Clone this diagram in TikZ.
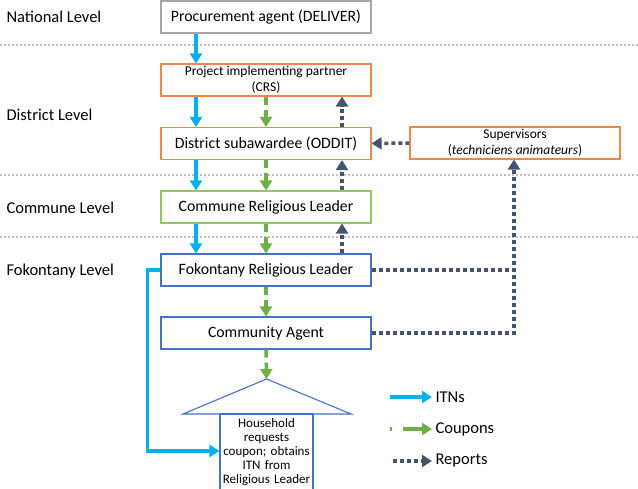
\documentclass[tikz,border=0pt]{standalone}
\usepackage{fontspec}
\setmainfont{Carlito}
\usetikzlibrary{arrows.meta}

\definecolor{itnblue}{RGB}{0,176,240}
\definecolor{cpgreen}{RGB}{112,173,71}
\definecolor{repdark}{RGB}{68,84,106}
\definecolor{boxorange}{RGB}{240,135,70}
\definecolor{boxgreen}{RGB}{146,200,100}
\definecolor{boxblue}{RGB}{68,114,196}
\definecolor{boxgray}{RGB}{166,166,166}
\definecolor{sepgray}{RGB}{191,191,191}

\begin{document}
\begin{tikzpicture}[x=1pt, y=-1pt]
        \tikzstyle{every node}=[font=\fontsize{15.8}{18}\selectfont, text=black]
        \tikzstyle{box}=[rectangle, fill=white, line width=1.1pt, minimum width=210pt, minimum height=32pt, inner sep=1pt]
        \tikzstyle{smalltext}=[font=\fontsize{13.5}{16}\selectfont, align=center]
        \tikzstyle{level}=[anchor=west, font=\fontsize{16.5}{19}\selectfont]
        \tikzstyle{sep}=[sepgray, line width=1.6pt, dash pattern=on 2pt off 2pt]
        \tikzstyle{itn}=[itnblue, line width=3.5pt, -{Triangle[length=10pt, width=12pt]}]
        \tikzstyle{coupon}=[cpgreen, line width=3.5pt, dash pattern=on 8pt off 5pt, -{Triangle[length=10pt, width=12pt]}]
        \tikzstyle{report}=[repdark, line width=3.5pt, dash pattern=on 4pt off 3pt, -{Triangle[length=10pt, width=12pt]}]

        \useasboundingbox (0,0) rectangle (638,488);

        % levels
        \draw[sep] (0,45) -- (638,45);
        \draw[sep] (0,175) -- (638,175);
        \draw[sep] (0,237) -- (638,237);
        \node[level] (national) at (3,17)  {National Level};
        \node[level] (district) at (3,115) {District Level};
        \node[level] (commune)  at (3,208) {Commune Level};
        \node[level] (fokontany) at (3,271) {Fokontany Level};

        % boxes
        \node[box, draw=boxgray]   (deliver) at (266,17)    {Procurement agent (DELIVER)};
        \node[box, draw=boxorange, smalltext] (crs) at (266,80) {Project implementing partner\\(CRS)};
        \node[box, draw=boxorange] (oddit)   at (266,143.5) {District subawardee (ODDIT)};
        \node[box, draw=boxgreen]  (crl)     at (266,207)   {Commune Religious Leader};
        \node[box, draw=boxblue]   (frl)     at (266,270)   {Fokontany Religious Leader};
        \node[box, draw=boxblue]   (agent)   at (266,333)   {Community Agent};
        \node[box, draw=boxorange, smalltext] (sup) at (515,143) {Supervisors\\(\textit{techniciens animateurs})};

        % household
        \coordinate (roof) at (266.5,379);
        \draw[boxblue, line width=1.1pt, fill=white] (183,414) -- (roof) -- (351,414) -- cycle;
        \node[box, draw=boxblue, align=center, minimum width=93pt, minimum height=76pt, text width=91pt, inner sep=0pt,
              font=\fontsize{13}{14}\selectfont] (house) at (266.5,452) {Household\\requests\\coupon; obtains\\ITN from\\Religious Leader};

        % columns for the flows
        \coordinate (itnx) at (196,0);
        \coordinate (cpx)  at (266,0);
        \coordinate (repx) at (342,0);
        \coordinate (supx) at (514,0);

        % ITNs
        \draw[itn] (deliver.south -| itnx) -- (crs.north -| itnx);
        \draw[itn] (crs.south -| itnx) -- (oddit.north -| itnx);
        \draw[itn] (oddit.south -| itnx) -- (crl.north -| itnx);
        \draw[itn] (crl.south -| itnx) -- (frl.north -| itnx);
        \draw[itn] (frl.west) -- ++(-13,0) |- (house.west |- 0,451);

        % coupons
        \draw[coupon] (crs.south -| cpx) -- (oddit.north -| cpx);
        \draw[coupon] (oddit.south -| cpx) -- (crl.north -| cpx);
        \draw[coupon] (crl.south -| cpx) -- (frl.north -| cpx);
        \draw[coupon] (frl.south -| cpx) -- (agent.north -| cpx);
        \draw[coupon] (agent.south -| cpx) -- (roof);

        % reports
        \draw[report] (oddit.north -| repx) -- (crs.south -| repx);
        \draw[report] (crl.north -| repx) -- (oddit.south -| repx);
        \draw[report] (frl.north -| repx) -- (crl.south -| repx);
        \draw[report] (sup.west) -- (oddit.east);
        \draw[report, -] (frl.east) -- (frl.east -| supx);
        \draw[report] (agent.east) -| (sup.south -| supx);

        % legend
        \node[anchor=west, font=\fontsize{16.5}{19}\selectfont] (litn) at (432,397) {ITNs};
        \node[anchor=west, font=\fontsize{16.5}{19}\selectfont] (lcp)  at (432,429) {Coupons};
        \node[anchor=west, font=\fontsize{16.5}{19}\selectfont] (lrep) at (432,461) {Reports};
        \coordinate (litns) at (390,397);
        \coordinate (lcps)  at (390,429);
        \coordinate (lreps) at (393,461);
        \draw[itn] (litns) -- (litn.west);
        \draw[coupon, dash pattern=on 2pt off 11pt on 30pt] (lcps) -- (lcp.west);
        \draw[report] (lreps) -- (lrep.west);
\end{tikzpicture}
\end{document}
